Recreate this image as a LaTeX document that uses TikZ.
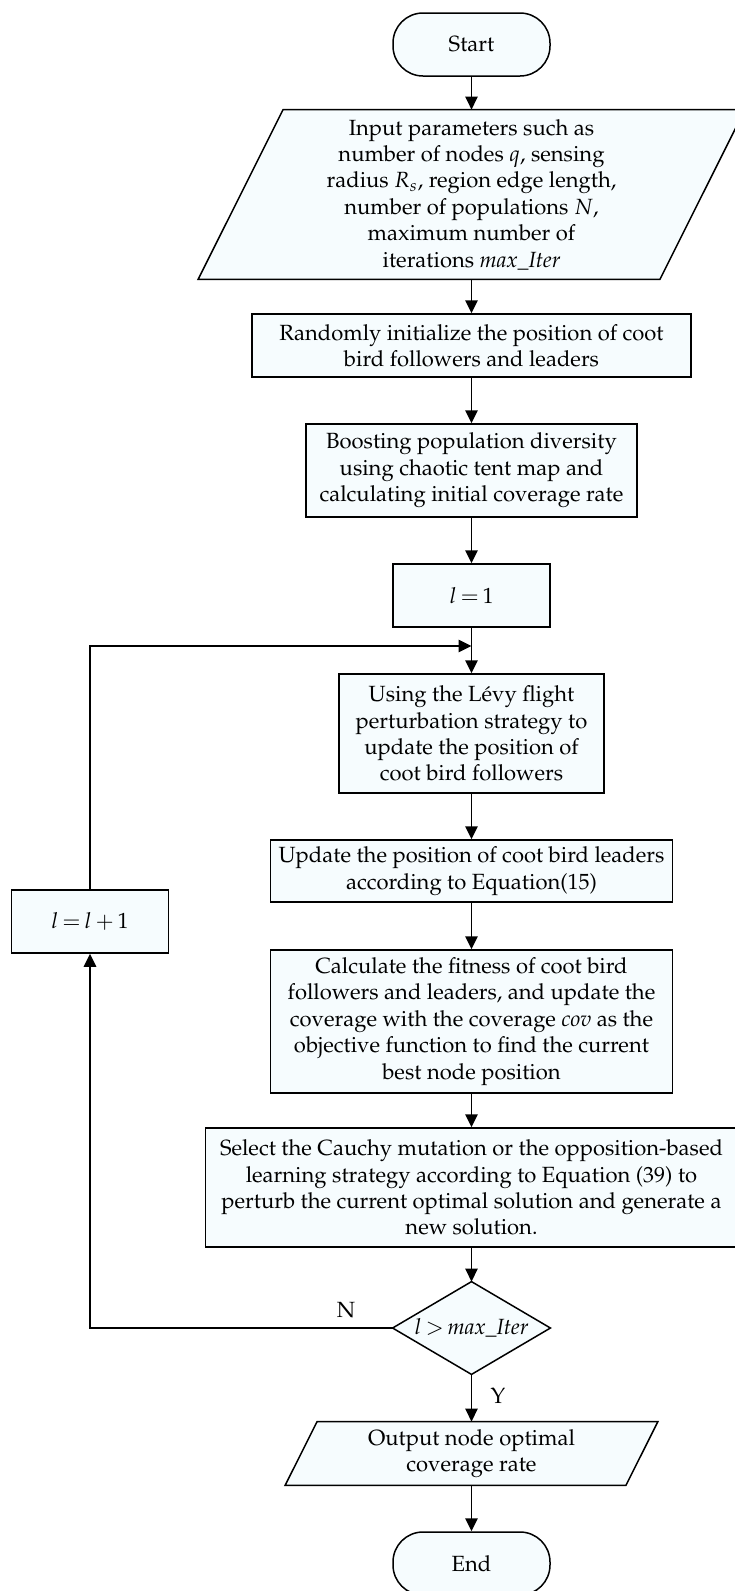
\documentclass[tikz,border=0pt]{standalone}
\usepackage[T1]{fontenc}
\usepackage{mathpazo}
\usetikzlibrary{arrows.meta,backgrounds}
\definecolor{boxfill}{RGB}{246,252,254}
\newcommand{\eqs}{\mskip3mu{=}\mskip3mu}
\tikzset{
 txt/.style={font=\fontsize{11}{13.2}\selectfont},
 box/.style={txt, draw, fill=boxfill, line width=0.75pt, align=center, inner sep=0pt},
 term/.style={box, rounded corners=15pt},
 ghost/.style={txt, align=center, inner sep=0pt},
 shapeline/.style={draw, fill=boxfill, line width=0.75pt},
 arr/.style={line width=0.75pt, -{Triangle[length=6.5pt,width=6.2pt]}},
}
\begin{document}
\begin{tikzpicture}[x=0.5pt,y=-0.5pt]
\useasboundingbox (0,0) rectangle (734,1591);
\node[term, minimum width=78.5pt, minimum height=31.5pt] (start) at (471.5,44.5) {Start};
\node[ghost, minimum width=230.5pt, minimum height=84.5pt] (in) at (471.5,194.5)
 {Input parameters such as\\ number of nodes $q$, sensing\\ radius $R_s$, region edge length,\\ number of populations $N$,\\ maximum number of\\ iterations \textit{max\_Iter}};
\node[box, minimum width=219.5pt, minimum height=31.5pt] (rand) at (471.5,345.5)
 {Randomly initialize the position of coot\\ bird followers and leaders};
\node[box, minimum width=165.5pt, minimum height=46.5pt] (boost) at (471.5,470.5)
 {Boosting population diversity\\ using chaotic tent map and\\ calculating initial coverage rate};
\node[box, minimum width=78.5pt, minimum height=31.5pt] (l1) at (471.5,595.5) {$l\eqs1$};
\node[box, minimum width=132.5pt, minimum height=59.5pt] (levy) at (471.5,733.5)
 {Using the L\'evy flight\\ perturbation strategy to\\ update the position of\\ coot bird followers};
\node[box, minimum width=201pt, minimum height=31pt] (upd) at (471.5,871)
 {Update the position of coot bird leaders\\ according to Equation(15)};
\node[box, minimum width=201pt, minimum height=71.5pt] (calc) at (471.5,1021.5)
 {Calculate the fitness of coot bird\\ followers and leaders, and update the\\ coverage with the coverage \textit{cov} as the\\ objective function to find the current\\ best node position};
\node[box, minimum width=266pt, minimum height=59.5pt] (sel) at (471.5,1187.5)
 {Select the Cauchy mutation or the opposition-based\\ learning strategy according to Equation (39) to\\ perturb the current optimal solution and generate a\\ new solution.};
\node[ghost, minimum width=78.5pt, minimum height=46pt] (dec) at (471.5,1328) {$l\mskip3mu{>}\mskip3mu\textit{max\_Iter}$};
\node[ghost, minimum width=170pt, minimum height=31.5pt] (out) at (471.5,1453.5)
 {Output node optimal\\ coverage rate};
\node[term, minimum width=78.5pt, minimum height=31.5pt] (end) at (471.5,1563.5) {End};
\node[box, minimum width=78.5pt, minimum height=31.5pt] (inc) at (90,921.5) {$l\eqs l\mskip3mu{+}\mskip3mu1$};
\coordinate (loopin) at (471.5,646);
\node[txt] (nlab) at (346,1310) {N};
\node[txt] (ylab) at (498,1396) {Y};
\begin{scope}[on background layer]
\draw[shapeline] ([xshift=21.25pt]in.north west) -- ([xshift=21.25pt]in.north east) -- ([xshift=-21.25pt]in.south east) -- ([xshift=-21.25pt]in.south west) -- cycle;
\draw[shapeline] ([xshift=8pt]out.north west) -- ([xshift=8pt]out.north east) -- ([xshift=-8pt]out.south east) -- ([xshift=-8pt]out.south west) -- cycle;
\draw[shapeline] (dec.north) -- (dec.east) -- (dec.south) -- (dec.west) -- cycle;
\end{scope}
\draw[arr] (start) -- (in);
\draw[arr] (in) -- (rand);
\draw[arr] (rand) -- (boost);
\draw[arr] (boost) -- (l1);
\draw[arr] (l1) -- (levy);
\draw[arr] (levy) -- (upd);
\draw[arr] (upd) -- (calc);
\draw[arr] (calc) -- (sel);
\draw[arr] (sel) -- (dec);
\draw[arr] (dec) -- (out);
\draw[arr] (out) -- (end);
\draw[arr] (dec.west) -| (inc.south);
\draw[arr] (inc.north) |- (loopin);
\end{tikzpicture}
\end{document}
